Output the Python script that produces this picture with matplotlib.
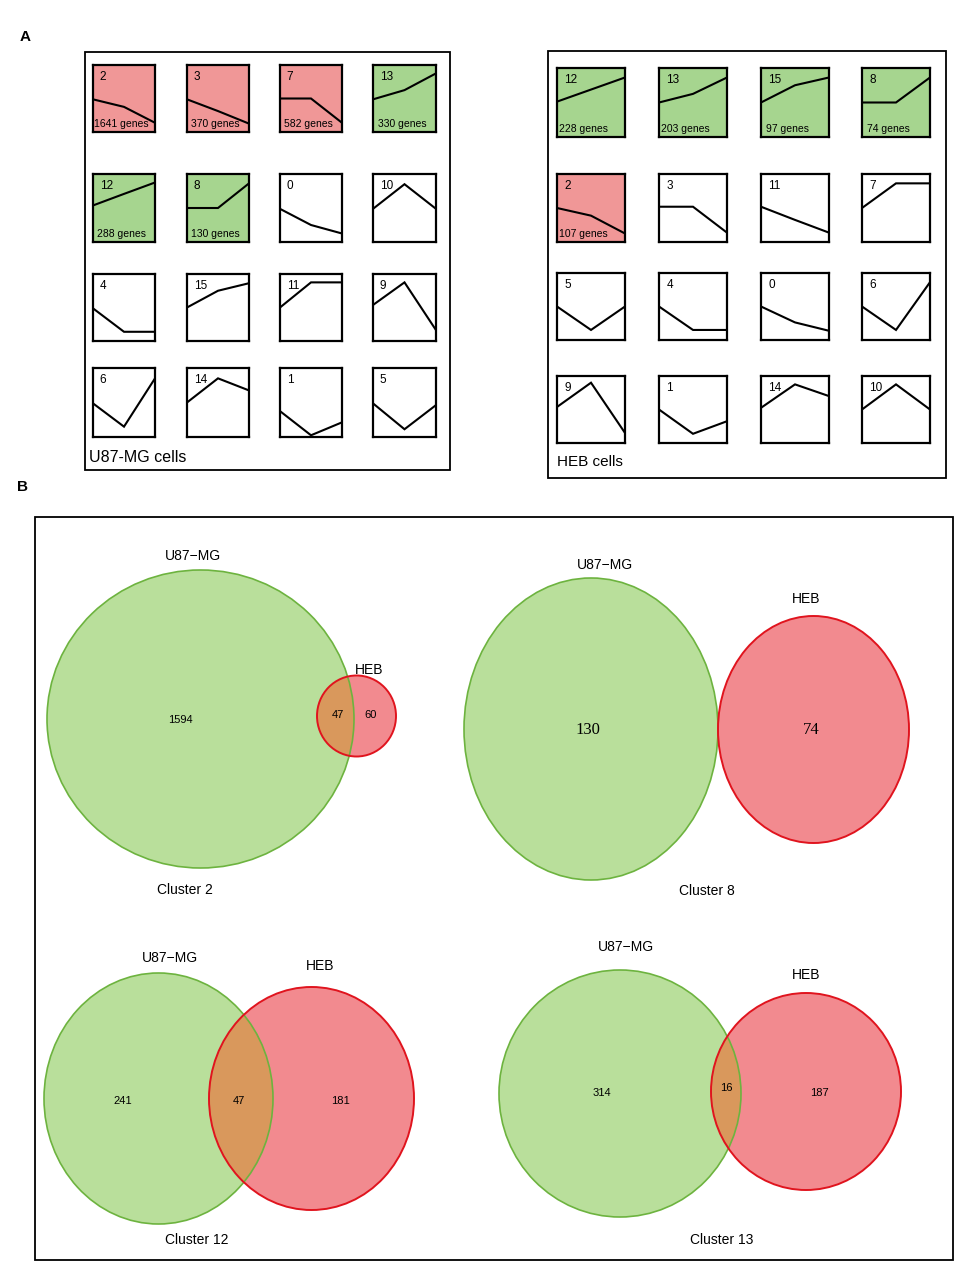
import matplotlib
matplotlib.use('Agg')
import matplotlib.pyplot as plt
from matplotlib.patches import Rectangle, Ellipse

plt.rcParams['font.family'] = ['Liberation Sans', 'DejaVu Sans']

# ---------------- data ----------------
# Panel A: STEM temporal profiles (3 time points), row-major order
u87_ids = [2, 3, 7, 13, 12, 8, 0, 10, 4, 15, 11, 9, 6, 14, 1, 5]
u87_profiles = [
    [-0.1, -1.0, -2.9], [-0.1, -1.5, -3.0], [0.0, 0.0, -2.9], [-0.1, 1.0, 3.0],
    [0.3, 1.66, 3.0], [0.0, 0.0, 2.9], [-0.1, -2.0, -3.0], [-0.1, 2.8, -0.1],
    [-0.1, -2.9, -2.9], [0.0, 2.0, 2.9], [0.0, 3.0, 3.0], [0.3, 3.0, -2.7],
    [-0.1, -2.8, 2.8], [0.0, 2.8, 1.4], [-1.0, -3.8, -2.3], [-0.1, -3.1, -0.3],
]
u87_genes = [1641, 370, 582, 330, 288, 130, None, None,
             None, None, None, None, None, None, None, None]
u87_sig = ['down', 'down', 'down', 'up', 'up', 'up', None, None,
           None, None, None, None, None, None, None, None]

heb_ids = [12, 13, 15, 8, 2, 3, 11, 7, 5, 4, 0, 6, 9, 1, 14, 10]
heb_profiles = [
    [0.1, 1.5, 2.9], [0.0, 1.0, 2.9], [0.0, 2.0, 2.9], [0.0, 0.0, 2.9],
    [0.0, -0.9, -3.0], [0.15, 0.15, -2.9], [0.15, -1.4, -2.9], [0.0, 2.9, 2.9],
    [0.0, -2.8, 0.0], [0.0, -2.8, -2.8], [0.0, -1.9, -2.9], [0.0, -2.8, 2.9],
    [0.3, 3.2, -2.8], [0.0, -2.9, -1.4], [0.2, 3.0, 1.6], [0.0, 3.0, 0.0],
]
heb_genes = [228, 203, 97, 74, 107, None, None, None,
             None, None, None, None, None, None, None, None]
heb_sig = ['up', 'up', 'up', 'up', 'down', None, None, None,
           None, None, None, None, None, None, None, None]
time_points = [0, 1, 2]

# Panel B: Venn counts
venn_titles = ['Cluster 2', 'Cluster 8', 'Cluster 12', 'Cluster 13']
venn_u87_only = [1594, 130, 241, 314]
venn_shared = [47, 0, 47, 16]
venn_heb_only = [60, 74, 181, 187]

# ---------------- styling / layout ----------------
W, H = 957, 1267
SIG_COL = {'down': '#F09797', 'up': '#A6D58F', None: 'white'}
G_FILL, G_EDGE = '#B9DF9B', '#6DB33F'
R_FILL, R_EDGE = '#F28A8F', '#E0141E'
OV_FILL = '#D9985C'

fig = plt.figure(figsize=(W / 100, H / 100), dpi=100)
bg = fig.add_axes([0, 0, 1, 1])
bg.set_xlim(0, W)
bg.set_ylim(H, 0)
bg.axis('off')


def px_axes(x0, y0, x1, y1):
    return fig.add_axes([x0 / W, 1 - y1 / H, (x1 - x0) / W, (y1 - y0) / H])


# panel labels
bg.text(20, 37, 'A', fontsize=11, fontweight='bold', va='center')
bg.text(17, 487, 'B', fontsize=11, fontweight='bold', va='center')

# outer frames
bg.add_patch(Rectangle((85, 52), 365, 418, fill=False, lw=1.3, ec='black'))
bg.add_patch(Rectangle((548, 51), 398, 427, fill=False, lw=1.3, ec='black'))
bg.add_patch(Rectangle((35, 517), 918, 743, fill=False, lw=1.3, ec='black'))

bg.text(89, 458, 'U87-MG cells', fontsize=11.5, va='center')
bg.text(557, 462, 'HEB cells', fontsize=11, va='center')

u87_cols = [(93, 155), (187, 249), (280, 342), (373, 436)]
u87_rows = [(65, 132), (174, 242), (274, 341), (368, 437)]
heb_cols = [(557, 625), (659, 727), (761, 829), (862, 930)]
heb_rows = [(68, 137), (174, 242), (273, 340), (376, 443)]


def draw_panel(ids, profiles, genes, sig, cols, rows, gene_x):
    for i, (cid, prof, g, s) in enumerate(zip(ids, profiles, genes, sig)):
        r, c = divmod(i, 4)
        ax = px_axes(cols[c][0], rows[r][0], cols[c][1], rows[r][1])
        ax.set_facecolor(SIG_COL[s])
        ax.plot(time_points, prof, color='black', lw=1.5, solid_joinstyle='miter')
        ax.set_xlim(0, 2)
        ax.set_ylim(-4, 4)
        ax.set_xticks([])
        ax.set_yticks([])
        for sp in ax.spines.values():
            sp.set_linewidth(1.6)
        ax.text(0.11, 0.82, str(cid), transform=ax.transAxes,
                fontsize=8.5, va='center', ha='left')
        if g is not None:
            ax.text(gene_x, 0.12, f'{g} genes', transform=ax.transAxes,
                    fontsize=7.5, va='center', ha='center')


draw_panel(u87_ids, u87_profiles, u87_genes, u87_sig, u87_cols, u87_rows, 0.46)
draw_panel(heb_ids, heb_profiles, heb_genes, heb_sig, heb_cols, heb_rows, 0.39)

# ---------------- Panel B: Venn diagrams ----------------
venn_layout = [
    dict(g=(200.5, 719, 153.5, 149), r=(356.5, 716, 39.5, 40.5),
         gl=(193, 556), rl=(369, 670), t=(185, 890),
         nu=(180, 720), ns=(338, 715), nh=(371, 715), serif=False),
    dict(g=(591, 729, 127, 151), r=(813.5, 729.5, 95.5, 113.5),
         gl=(605, 565), rl=(806, 599), t=(707, 891),
         nu=(588, 730), ns=None, nh=(811, 730), serif=True),
    dict(g=(158.5, 1098.5, 114.5, 125.5), r=(311.5, 1098.5, 102.5, 111.5),
         gl=(170, 958), rl=(320, 966), t=(197, 1240),
         nu=(123, 1101), ns=(239, 1101), nh=(340, 1101), serif=False),
    dict(g=(620, 1093.5, 121, 123.5), r=(806, 1091.5, 95, 98.5),
         gl=(626, 947), rl=(806, 975), t=(722, 1240),
         nu=(602, 1093), ns=(726, 1088), nh=(819, 1093), serif=False),
]

for title, nu, ns, nh, L in zip(venn_titles, venn_u87_only, venn_shared,
                                venn_heb_only, venn_layout):
    gx, gy, grx, gry = L['g']
    rx, ry, rrx, rry = L['r']
    ge = Ellipse((gx, gy), 2 * grx, 2 * gry, fc=G_FILL, ec='none')
    re = Ellipse((rx, ry), 2 * rrx, 2 * rry, fc=R_FILL, ec='none')
    bg.add_patch(ge)
    bg.add_patch(re)
    if ns:
        ov = Ellipse((rx, ry), 2 * rrx, 2 * rry, fc=OV_FILL, ec='none')
        bg.add_patch(ov)
        ov.set_clip_path(ge)
    bg.add_patch(Ellipse((gx, gy), 2 * grx, 2 * gry, fc='none', ec=G_EDGE, lw=1.2))
    bg.add_patch(Ellipse((rx, ry), 2 * rrx, 2 * rry, fc='none', ec=R_EDGE, lw=1.4))

    bg.text(*L['gl'], 'U87\u2212MG', fontsize=10, ha='center', va='center')
    bg.text(*L['rl'], 'HEB', fontsize=10, ha='center', va='center')
    bg.text(*L['t'], title, fontsize=10, ha='center', va='center')
    if L['serif']:
        kw = dict(fontsize=12, family=['Liberation Serif', 'DejaVu Serif'])
    else:
        kw = dict(fontsize=8)
    bg.text(*L['nu'], str(nu), ha='center', va='center', **kw)
    bg.text(*L['nh'], str(nh), ha='center', va='center', **kw)
    if ns:
        bg.text(*L['ns'], str(ns), ha='center', va='center', **kw)

fig.savefig('out.png', dpi=100)
